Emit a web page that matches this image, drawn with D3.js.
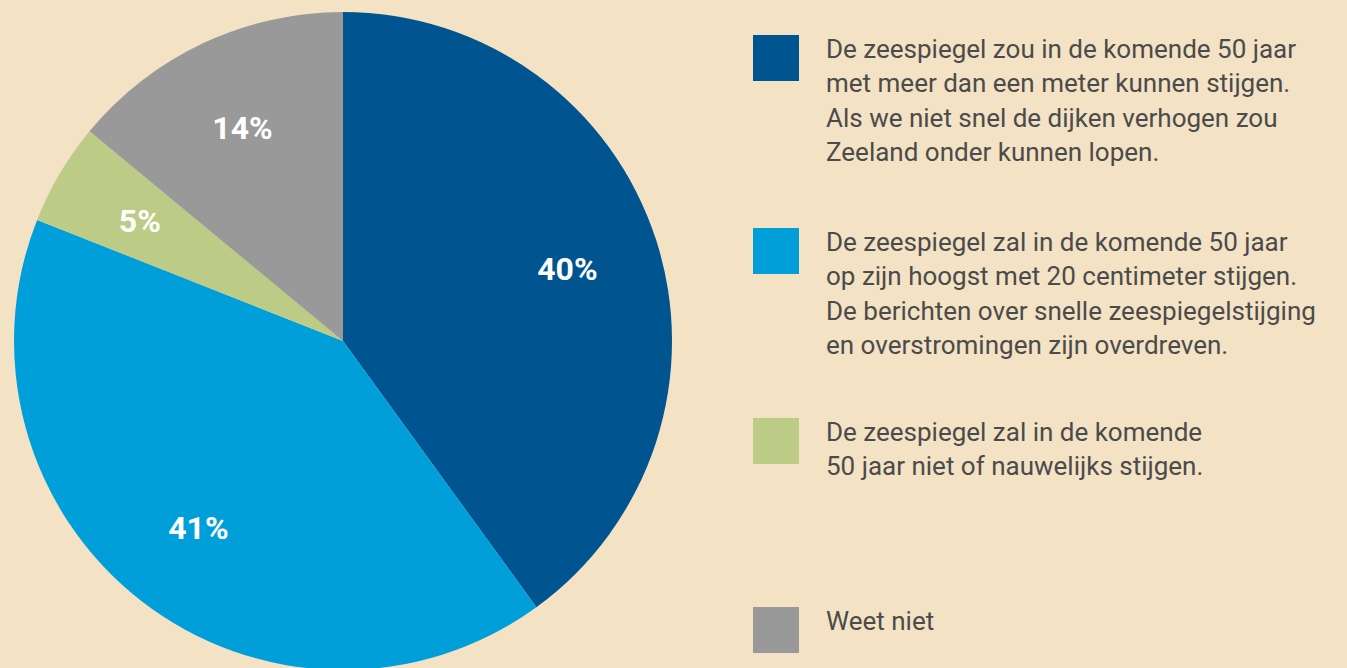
<html lang="nl">
<head>
  <meta charset="UTF-8">
  <title>Zeespiegel</title>
  <script src="https://d3js.org/d3.v7.min.js"></script>
  <style>
    body { margin: 0; background: #f3e2c4; overflow: hidden; }
    .legend text { font-family: Roboto, sans-serif; font-size: 26px; fill: #4b4b4b; }
    .labels text { font-family: Roboto, sans-serif; font-size: 32px; font-weight: bold; fill: #fff; }
  </style>
</head>
<body>
  <svg class="piesvg" width="1347" height="668"></svg>
  <script>
    const categories = ['meer dan een meter', 'hoogstens 20 cm', 'niet of nauwelijks', 'weet niet'];
    const values = [40, 41, 5, 14];
    const percentLabels = ['40%', '41%', '5%', '14%'];
    const colors = ['#00548f', '#009fda', '#bccb85', '#999999'];
    const legendLines = [
      ['De zeespiegel zou in de komende 50 jaar', 'met meer dan een meter kunnen stijgen.', 'Als we niet snel de dijken verhogen zou', 'Zeeland onder kunnen lopen.'],
      ['De zeespiegel zal in de komende 50 jaar', 'op zijn hoogst met 20 centimeter stijgen.', 'De berichten over snelle zeespiegelstijging', 'en overstromingen zijn overdreven.'],
      ['De zeespiegel zal in de komende', '50 jaar niet of nauwelijks stijgen.'],
      ['Weet niet']
    ];

    const svg = d3.select('svg.piesvg');
    const cx = 343, cy = 341, radius = 329;

    const pie = d3.pie().sort(null).value(d => d);
    const arcs = pie(values);
    const arc = d3.arc().innerRadius(0).outerRadius(radius);
    const labelArc = d3.arc().innerRadius(236).outerRadius(236);

    const chartArea = svg.append('g').attr('transform', `translate(${cx},${cy})`);
    chartArea.selectAll('path')
      .data(arcs)
      .join('path')
      .attr('d', arc)
      .style('fill', (d, i) => colors[i]);

    chartArea.append('g').attr('class', 'labels')
      .selectAll('text')
      .data(arcs)
      .join('text')
      .attr('transform', d => `translate(${labelArc.centroid(d)})`)
      .attr('text-anchor', 'middle')
      .attr('dy', '0.36em')
      .text((d, i) => percentLabels[i]);

    // legend
    const legendTops = [35, 228, 418, 607];
    const legend = svg.append('g').attr('class', 'legend');
    categories.forEach((c, i) => {
      const item = legend.append('g').attr('transform', `translate(753,${legendTops[i]})`);
      item.append('rect')
        .attr('width', 46)
        .attr('height', 46)
        .style('fill', colors[i]);
      const t = item.append('text').attr('x', 73).attr('y', 23);
      legendLines[i].forEach((line, j) => {
        t.append('tspan').attr('x', 73).attr('dy', j === 0 ? 0 : 34.3).text(line);
      });
    });
  </script>
</body>
</html>
